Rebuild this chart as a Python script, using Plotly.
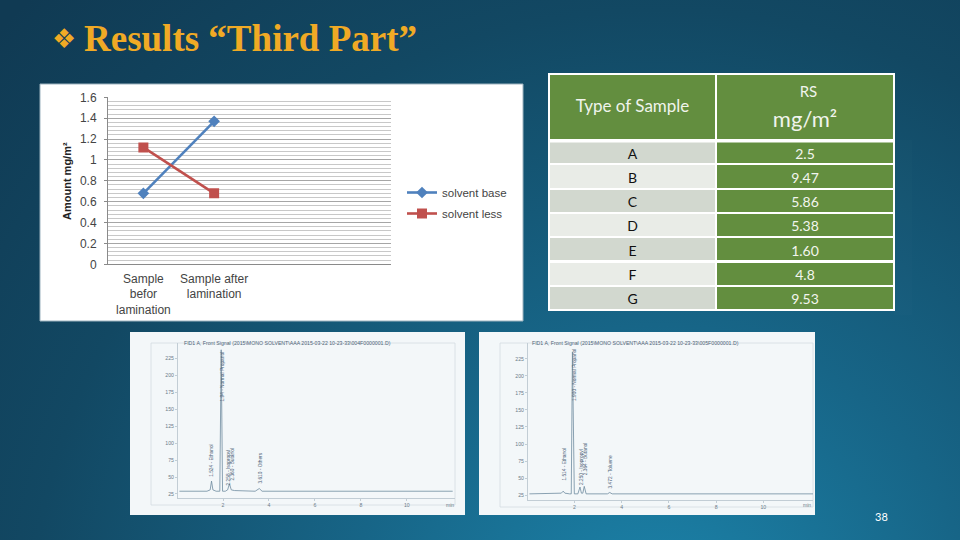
import plotly.graph_objects as go
from urllib.parse import quote

W, H = 960, 540

# Line chart data
categories = ["Sample<br>befor<br>lamination", "Sample after<br>lamination"]
cat_pos = [1, 2]
solvent_base = [0.68, 1.37]
solvent_less = [1.12, 0.68]

# Table data
sample_types = ["A", "B", "C", "D", "E", "F", "G"]
rs_values = ["2.5", "9.47", "5.86", "5.38", "1.60", "4.8", "9.53"]

# Chromatogram data (time in minutes, signal)
chrom1_t = [0.1, 1.3, 1.44, 1.5, 1.56, 1.7, 1.86, 1.92, 1.98, 2.1, 2.2, 2.28, 2.36, 2.5, 3.4, 3.58, 3.7, 4.2, 8, 9, 12.0]
chrom1_y = [29, 29, 31, 44, 31, 29, 29, 238, 29, 29, 31, 40, 31, 30, 29, 33, 29, 29, 29, 30, 29]
chrom2_t = [0.1, 1.3, 1.45, 1.53, 1.6, 1.8, 1.87, 1.92, 2.0, 2.15, 2.24, 2.3, 2.36, 2.42, 2.5, 3.4, 3.5, 3.6, 8, 12.1]
chrom2_y = [27, 27, 28, 31, 28, 27, 27, 235, 27, 27, 37, 28, 28, 38, 27, 27, 29, 27, 27, 27]
chrom_yticks = [25, 50, 75, 100, 125, 150, 175, 200, 225]
chrom_xticks = [2, 4, 6, 8, 10]
chrom1_labels = [(1.52, 48, "1.524 - Ethanol"), (1.98, 158, "1.94 - Normal Propanol"), (2.24, 34, "2.258 - Isopropyl"),
                 (2.42, 42, "2.360 - Butanol"), (3.62, 37, "3.610 - Others")]
chrom2_labels = [(1.6, 44, "1.514 - Ethanol"), (1.98, 160, "1.900 - Normal Propanol"), (2.28, 37, "2.250 - Isopropyl"),
                 (2.45, 52, "2.364 - Butanol"), (3.53, 32, "3.472 - Toluene")]


def px(x):
    return x / W


def py(y):
    return 1 - y / H


def pnote(x, y, text, font, xanchor="center", **kw):
    return dict(x=px(x), y=py(y), xref="paper", yref="paper", text=text, font=font, showarrow=False,
                xanchor=xanchor, yanchor="middle", **kw)


svg = (
    "<svg xmlns='http://www.w3.org/2000/svg' width='960' height='540'>"
    "<defs><radialGradient id='g' gradientUnits='userSpaceOnUse' cx='660' cy='640' r='900'>"
    "<stop offset='0' stop-color='#1c86ad'/><stop offset='0.35' stop-color='#176587'/>"
    "<stop offset='0.7' stop-color='#124863'/><stop offset='1' stop-color='#103a53'/>"
    "</radialGradient></defs><rect width='960' height='540' fill='url(#g)'/></svg>"
)

fig = go.Figure()

BLUE, RED = "#4f81bd", "#c0504d"
fig.add_trace(go.Scatter(x=cat_pos, y=solvent_base, name="solvent base", mode="lines+markers", legendgroup="a",
                         line=dict(color=BLUE, width=2.6), marker=dict(symbol="diamond", size=9, color=BLUE),
                         xaxis="x", yaxis="y", showlegend=True))
fig.add_trace(go.Scatter(x=cat_pos, y=solvent_less, name="solvent less", mode="lines+markers", legendgroup="b",
                         line=dict(color=RED, width=2.6), marker=dict(symbol="square", size=10, color=RED),
                         xaxis="x", yaxis="y", showlegend=True))

fig.add_trace(go.Scatter(x=chrom1_t, y=chrom1_y, mode="lines", line=dict(color="#6f8ba0", width=0.8),
                         xaxis="x2", yaxis="y2", showlegend=False))
fig.add_trace(go.Scatter(x=chrom2_t, y=chrom2_y, mode="lines", line=dict(color="#6f8ba0", width=0.8),
                         xaxis="x3", yaxis="y3", showlegend=False))

NB = "\u00a0"
fig.add_trace(go.Table(
    domain=dict(x=[px(549), px(894)], y=[py(316), py(74)]),
    columnwidth=[167, 178],
    header=dict(values=[NB + "<br><span style='font-size:17px'>Type of Sample</span>",
                        "<span style='font-size:15px'>" + NB * 7 + "RS</span><br><span style='font-size:22px'>mg/m²</span>"],
                fill_color="#638e3f", line=dict(color="white", width=2), height=66,
                font=dict(family="Lato", size=[13, 23], color="#f0f4ec"), align="center"),
    cells=dict(values=[sample_types, rs_values], height=24.3,
               fill_color=[["#d2d8cf", "#e9ece7"] * 3 + ["#d2d8cf"], ["#638e3f"] * 7],
               line=dict(color="white", width=2),
               font=dict(family="Lato", size=14, color=[["#111111"] * 7, ["#f2f5ee"] * 7]), align="center"),
))

GOLD = "#f0aa25"
annotations = [
    pnote(50, 38, "❖", dict(family="DejaVu Sans", size=27, color=GOLD), xanchor="left"),
    pnote(82, 39, "<b>Results “Third Part”</b>", dict(family="Liberation Serif", size=37, color=GOLD), xanchor="left"),
    pnote(881, 516, "38", dict(family="Lato", size=11, color="white")),
    pnote(67, 181, "<b>Amount mg/m²</b>", dict(family="Liberation Sans", size=11, color="#222222"), textangle=-90),
    pnote(182, 343, "FID1 A, Front Signal (2015\\MONO SOLVENT\\AAA 2015-03-22 10-23-33\\004F0000001.D)",
          dict(family="Liberation Sans", size=5.2, color="#4f6478"), xanchor="left"),
    pnote(530, 343, "FID1 A, Front Signal (2015\\MONO SOLVENT\\AAA 2015-03-22 10-23-33\\005F0000001.D)",
          dict(family="Liberation Sans", size=5.2, color="#4f6478"), xanchor="left"),
    pnote(450, 505, "min", dict(family="Liberation Sans", size=5, color="#6c7d8a")),
    pnote(807, 505, "min", dict(family="Liberation Sans", size=5, color="#6c7d8a")),
]
for t, y, txt in chrom1_labels:
    annotations.append(dict(x=t, y=y, xref="x2", yref="y2", text=txt, textangle=-90, yanchor="bottom", showarrow=False,
                            font=dict(family="Liberation Sans", size=4.8, color="#4f6478")))
for t, y, txt in chrom2_labels:
    annotations.append(dict(x=t, y=y, xref="x3", yref="y3", text=txt, textangle=-90, yanchor="bottom", showarrow=False,
                            font=dict(family="Liberation Sans", size=4.8, color="#4f6478")))


def prect(x0, y0, x1, y1, fill, line=None):
    return dict(type="rect", xref="paper", yref="paper", x0=px(x0), x1=px(x1), y0=py(y1), y1=py(y0),
                fillcolor=fill, line=line or dict(width=0), layer="below")


FAINT = dict(color="#d3dce2", width=0.8)
shapes = [
    prect(40, 84, 523, 321, "white", dict(color="#9db3bf", width=1)),
    prect(130, 332, 465, 515, "#f3f7f9"),
    prect(479, 332, 815, 515, "#f3f7f9"),
    prect(151, 343, 455, 505, "rgba(0,0,0,0)", FAINT),
    prect(500, 343, 813, 507, "rgba(0,0,0,0)", FAINT),
    dict(type="line", xref="paper", yref="paper", x0=px(549), x1=px(894), y0=py(141), y1=py(141),
         line=dict(color="white", width=3), layer="above"),
]

chrom_axis_font = dict(family="Liberation Sans", size=5.2, color="#6c7d8a")
chart_font = dict(family="Liberation Sans", size=12, color="#444444")
fig.update_layout(
    template="none",
    width=W, height=H, margin=dict(l=0, r=0, t=0, b=0), autosize=False,
    paper_bgcolor="rgba(0,0,0,0)", plot_bgcolor="rgba(0,0,0,0)",
    images=[dict(source="data:image/svg+xml," + quote(svg), xref="paper", yref="paper", x=0, y=1, sizex=1, sizey=1,
                 sizing="stretch", xanchor="left", yanchor="top", layer="below")],
    shapes=shapes, annotations=annotations,
    legend=dict(x=px(402), y=py(178), xanchor="left", yanchor="top", bgcolor="rgba(0,0,0,0)",
                font=dict(family="Liberation Sans", size=11.5, color="#444444"), itemwidth=30, tracegroupgap=2),
    xaxis=dict(domain=[px(108), px(391)], range=[0.5, 4.5], tickmode="array", tickvals=cat_pos, ticktext=categories,
               showgrid=False, zeroline=False, showline=True, linecolor="#8a8a8a", ticks="", tickfont=chart_font,
               ticklabelstandoff=3, automargin=False),
    yaxis=dict(domain=[py(264.3), py(97.3)], range=[0, 1.6], showgrid=True, gridcolor="#a6a6a6", gridwidth=1.2,
               minor=dict(dtick=0.04, showgrid=True, gridcolor="#c8c8c8", gridwidth=0.8),
               zeroline=False, showline=True, linecolor="#8a8a8a", ticks="outside", ticklen=3, tickcolor="#8a8a8a",
               tickvals=[0, 0.2, 0.4, 0.6, 0.8, 1, 1.2, 1.4, 1.6], ticktext=["0", "0.2", "0.4", "0.6", "0.8", "1", "1.2", "1.4", "1.6"],
               tickfont=chart_font, ticklabelstandoff=5, automargin=False),
    xaxis2=dict(domain=[px(178), px(455)], anchor="y2", range=[0.04, 12.1], tickvals=chrom_xticks, showgrid=False, zeroline=False,
                showline=True, linecolor="#c2cdd5", ticks="outside", ticklen=2, tickcolor="#c2cdd5", tickfont=chrom_axis_font, automargin=False),
    yaxis2=dict(domain=[py(498), py(343)], anchor="x2", range=[19, 248], tickvals=chrom_yticks, showgrid=False, zeroline=False,
                showline=True, linecolor="#c2cdd5", ticks="outside", ticklen=2, tickcolor="#c2cdd5", tickfont=chrom_axis_font, automargin=False),
    xaxis3=dict(domain=[px(528), px(813)], anchor="y3", range=[0.04, 12.1], tickvals=chrom_xticks, showgrid=False, zeroline=False,
                showline=True, linecolor="#c2cdd5", ticks="outside", ticklen=2, tickcolor="#c2cdd5", tickfont=chrom_axis_font, automargin=False),
    yaxis3=dict(domain=[py(500), py(343)], anchor="x3", range=[18, 248], tickvals=chrom_yticks, showgrid=False, zeroline=False,
                showline=True, linecolor="#c2cdd5", ticks="outside", ticklen=2, tickcolor="#c2cdd5", tickfont=chrom_axis_font, automargin=False),
)

fig.write_html("out.html", config=dict(displayModeBar=False),
               post_script="document.body.style.margin='0';document.body.style.overflow='hidden';")
